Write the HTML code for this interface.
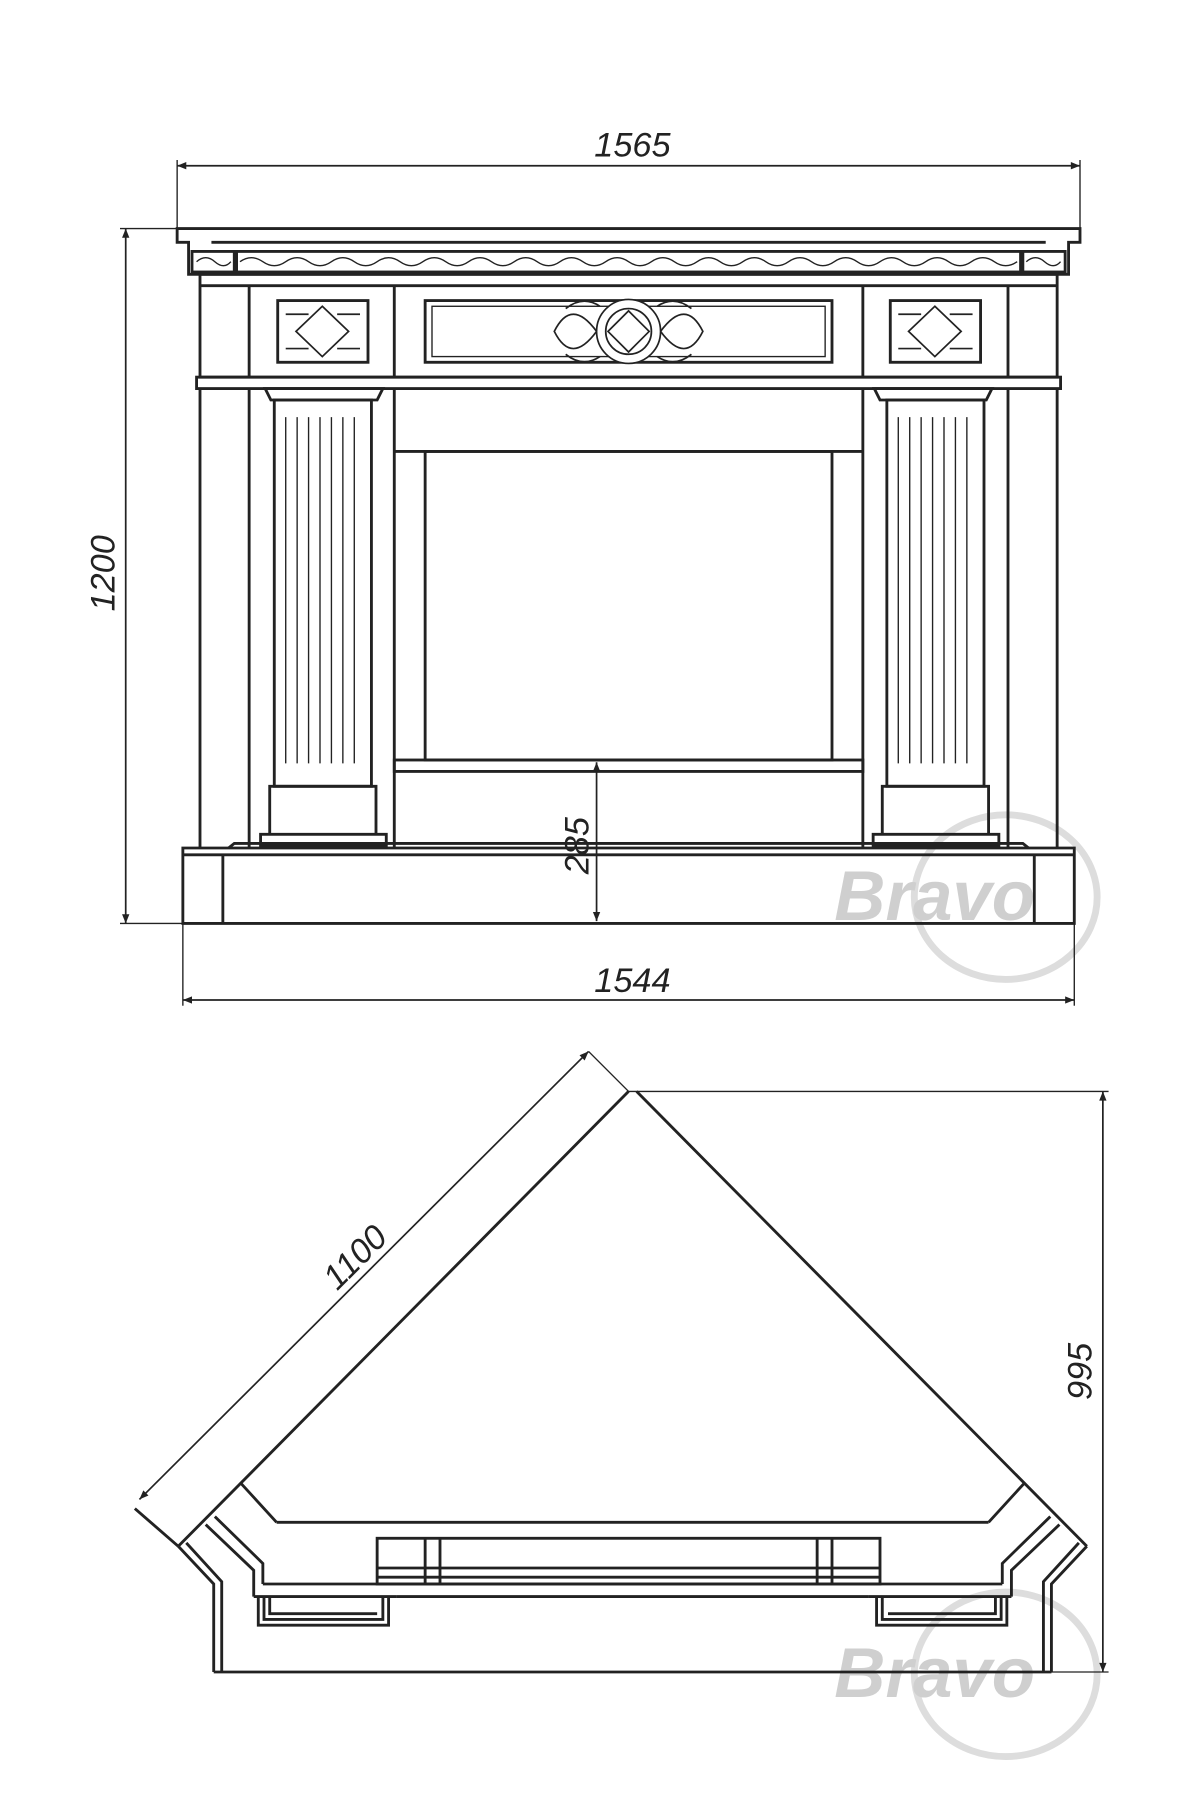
<!DOCTYPE html>
<html><head><meta charset="utf-8"><style>
html,body{margin:0;padding:0;background:#fff;width:1200px;height:1800px;overflow:hidden}
svg{display:block}
text{font-family:"Liberation Sans",sans-serif;font-style:italic;fill:#222}
</style></head><body>
<svg width="1200" height="1800" viewBox="0 0 1050 1575" preserveAspectRatio="none" xmlns="http://www.w3.org/2000/svg">
<defs>
<marker id="a" viewBox="0 0 10 10" refX="10" refY="5" markerWidth="14" markerHeight="8" orient="auto-start-reverse" markerUnits="userSpaceOnUse"><path d="M0,1 L10,5 L0,9 Z" fill="#222"/></marker>
</defs>
<g fill="none" stroke="#ddd" stroke-width="6">
<ellipse cx="880" cy="785" rx="80" ry="72"/>
<ellipse cx="880" cy="1465" rx="80" ry="72"/>
</g>
<text x="730" y="805" font-size="62" font-weight="bold" style="fill:#cfcfcf">Bravo</text>
<text x="730" y="1485" font-size="62" font-weight="bold" style="fill:#cfcfcf">Bravo</text>

<g fill="none" stroke="#222" stroke-width="2.5">
<line x1="155" y1="145" x2="945" y2="145" marker-start="url(#a)" marker-end="url(#a)" stroke-width="1.5"/>
<line x1="155" y1="140" x2="155" y2="200" stroke-width="1.2"/>
<line x1="945" y1="140" x2="945" y2="200" stroke-width="1.2"/>
<line x1="110" y1="200" x2="110" y2="808" marker-start="url(#a)" marker-end="url(#a)" stroke-width="1.5"/>
<line x1="105" y1="200" x2="155" y2="200" stroke-width="1.2"/>
<line x1="105" y1="808" x2="160" y2="808" stroke-width="1.2"/>
<line x1="160" y1="875" x2="940" y2="875" marker-start="url(#a)" marker-end="url(#a)" stroke-width="1.5"/>
<line x1="160" y1="808" x2="160" y2="880" stroke-width="1.2"/>
<line x1="940" y1="808" x2="940" y2="880" stroke-width="1.2"/>
<line x1="522" y1="667" x2="522" y2="806" marker-start="url(#a)" marker-end="url(#a)" stroke-width="1.5"/>

<path d="M155,200 H945 V212 H935 V240 H165 V212 H155 Z"/>
<line x1="185" y1="212" x2="915" y2="212"/>
<rect x="168" y="220" width="37" height="18"/>
<rect x="895" y="220" width="37" height="18"/>
<rect x="207" y="220" width="686" height="18"/>
<path d="M210,229 Q220,222 230,229 T250,229 T270,229 T290,229 T310,229 T330,229 T350,229 T370,229 T390,229 T410,229 T430,229 T450,229 T470,229 T490,229 T510,229 T530,229 T550,229 T570,229 T590,229 T610,229 T630,229 T650,229 T670,229 T690,229 T710,229 T730,229 T750,229 T770,229 T790,229 T810,229 T830,229 T850,229 T870,229 T890,229" stroke-width="1.2"/>
<path d="M172,229 Q180,222 188,229 T202,229 M898,229 Q906,222 914,229 T928,229" stroke-width="1.2"/>
<rect x="175" y="240" width="750" height="90"/>
<line x1="218" y1="250" x2="218" y2="330"/><line x1="882" y1="250" x2="882" y2="330"/>
<line x1="175" y1="250" x2="925" y2="250"/>
<line x1="345" y1="250" x2="345" y2="330"/><line x1="755" y1="250" x2="755" y2="330"/>
<rect x="243" y="263" width="79" height="54"/>
<rect x="779" y="263" width="79" height="54"/>
<rect x="372" y="263" width="356" height="54"/>
<rect x="378" y="268" width="344" height="44" stroke-width="1.2"/>
<g stroke-width="1.5">
<path d="M282,268 L305,290 L282,312 L259,290 Z M250,275 H270 M295,275 H315 M250,305 H270 M295,305 H315"/>
<path d="M818,268 L841,290 L818,312 L795,290 Z M786,275 H806 M831,275 H851 M786,305 H806 M831,305 H851"/>
<circle cx="550" cy="290" r="28" fill="#fff"/>
<circle cx="550" cy="290" r="20"/>
<path d="M550,272 L568,290 L550,308 L532,290 Z"/>
<path d="M522,290 Q500,260 485,290 Q500,320 522,290 M578,290 Q600,260 615,290 Q600,320 578,290"/>
<path d="M495,270 Q510,258 525,268 M605,270 Q590,258 575,268 M495,310 Q510,322 525,312 M605,310 Q590,322 575,312"/>
</g>
<rect x="172" y="330" width="756" height="10"/>
<path d="M175,340 V742 M218,340 V742 M882,340 V742 M925,340 V742"/>
<path d="M232,340 H335 L330,350 H237 Z"/><path d="M765,340 H868 L863,350 H770 Z"/>
<rect x="240" y="350" width="85" height="338"/>
<rect x="776" y="350" width="85" height="338"/>
<g stroke-width="1.2">
<path d="M250,365 V668 M260,365 V668 M270,365 V668 M280,365 V668 M290,365 V668 M300,365 V668 M310,365 V668"/>
<path d="M786,365 V668 M796,365 V668 M806,365 V668 M816,365 V668 M826,365 V668 M836,365 V668 M846,365 V668"/>
</g>
<path d="M236,688 H329 V730 H236 Z M228,730 H338 V740 H228 Z"/>
<path d="M772,688 H865 V730 H772 Z M764,730 H874 V740 H764 Z"/>
<path d="M345,340 V742 M755,340 V742"/>
<rect x="372" y="395" width="356" height="270"/>
<path d="M345,395 H755"/>
<rect x="345" y="665" width="410" height="10"/>
<path d="M160,742 H940 V808 H160 Z"/>
<path d="M195,748 V808 M905,748 V808 M160,748 H940"/>
<path d="M200,742 L205,738 H895 L900,742"/>

<line x1="122" y1="1312" x2="515" y2="920" marker-start="url(#a)" marker-end="url(#a)" stroke-width="1.5"/>
<line x1="515" y1="920" x2="550" y2="955" stroke-width="1.2"/>
<line x1="550" y1="955" x2="970" y2="955" stroke-width="1.2"/>
<line x1="965" y1="955" x2="965" y2="1463" marker-start="url(#a)" marker-end="url(#a)" stroke-width="1.5"/>
<line x1="905" y1="1463" x2="970" y2="1463" stroke-width="1.2"/>
<path d="M118,1320 L156,1353"/>

<g id="half">
<path d="M550,955 L156,1353"/>
<path d="M156,1353 L187,1386 V1463 M163,1350 L194,1384 V1463"/>
<path d="M180,1334 L222,1374 V1397 M188,1327 L230,1368 V1386"/>
<path d="M210,1297 L242,1332"/>
<path d="M222,1397 H347 M230,1386 H347"/>
<path d="M226,1397 V1422 H340 V1397 M231,1397 V1417 H335 V1397 M236,1397 V1412 H330"/>
</g>
<use href="#half" transform="translate(1107,0) scale(-1,1)"/>
<path d="M242,1332 H865"/>
<path d="M187,1463 H920"/>
<path d="M347,1386 H760 M347,1397 H760"/>
<rect x="330" y="1346" width="440" height="40"/>
<path d="M330,1372 H770 M330,1380 H770 M372,1346 V1386 M385,1346 V1386 M715,1346 V1386 M728,1346 V1386"/>
</g>
<text x="520" y="137" font-size="30">1565</text>
<text x="520" y="868" font-size="30">1544</text>
<text transform="translate(100,535) rotate(-90)" font-size="30">1200</text>
<text transform="translate(515,765) rotate(-90)" font-size="30">285</text>
<text transform="translate(955,1225) rotate(-90)" font-size="30">995</text>
<text transform="translate(295,1130) rotate(-45)" font-size="30">1100</text>
</svg>
</body></html>
